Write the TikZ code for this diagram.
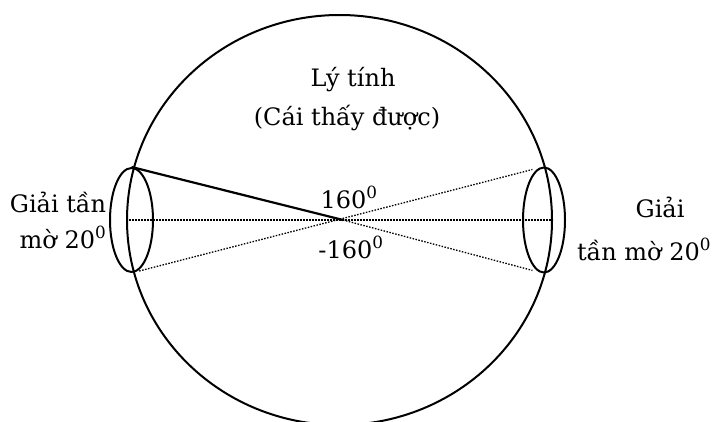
\documentclass[tikz,border=0pt]{standalone}
\usepackage{fontspec}
\setmainfont{DejaVu Serif}
\usetikzlibrary{shapes.geometric}
\begin{document}
\begin{tikzpicture}[x=1pt,y=-1pt,
  txt/.style={anchor=base,inner sep=0pt,font=\fontsize{24}{29}\selectfont},
  thick line/.style={line width=2.2pt},
  dotline/.style={line width=1.3pt,dash pattern=on 1.5pt off 1.5pt},
  eyeshape/.style={ellipse,draw,line width=2pt,inner sep=0pt}]
\useasboundingbox (0,0) rectangle (714,422);
\node[eyeshape,minimum width=425,minimum height=410] (eye) at (339.5,220) {};
\node[eyeshape,minimum width=43,minimum height=104] (le) at (131.5,220) {};
\node[eyeshape,minimum width=42,minimum height=105] (re) at (544,220) {};
\coordinate (c) at (343,220);
\draw[thick line] (le.north) -- (c);
\draw[dotline,shorten <=8pt,shorten >=12pt] (le.south) -- (re.north);
\draw[dotline,shorten >=12pt] (c) -- (re.south);
\draw[dotline] (eye.west) -- (eye.east);
\node[txt] (lyt) at (353,87) {Lý tính};
\node[txt] (cai) at (347,126) {(Cái thấy được)};
\node[txt] (lg1) at (58,212) {Giải tần};
\node[txt] (lg2) at (63,248) {mờ 20\textsuperscript{0}};
\node[txt] (rg1) at (660,217) {Giải};
\node[txt] (rg2) at (644,260) {tần mờ 20\textsuperscript{0}};
\node[txt] (a1) at (349,208) {160\textsuperscript{0}};
\node[txt] (a2) at (351,258) {-160\textsuperscript{0}};
\end{tikzpicture}
\end{document}
